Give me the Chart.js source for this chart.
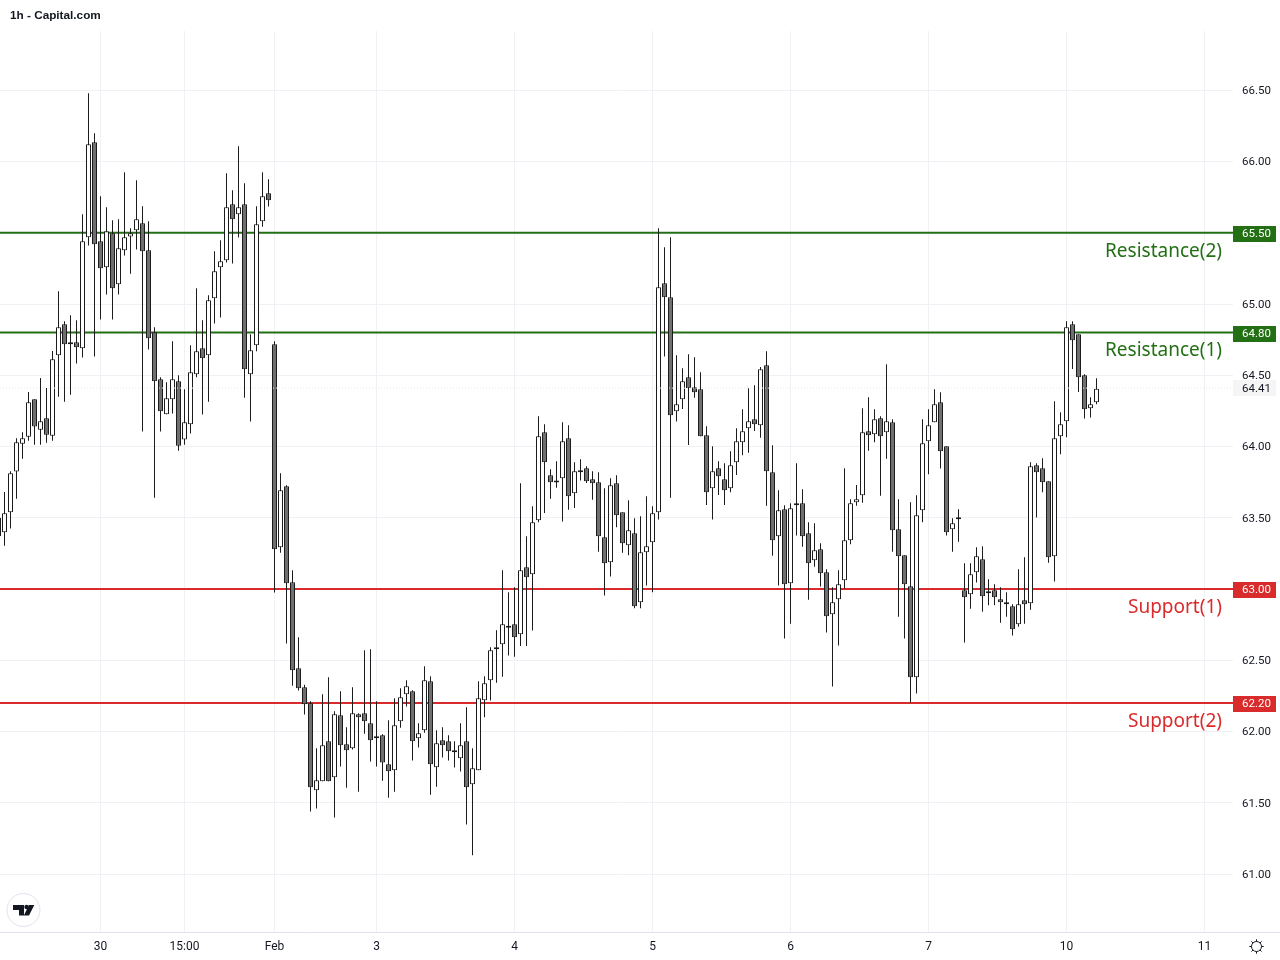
<!DOCTYPE html>
<html>
<head>
<meta charset="utf-8">
<title>1h - Capital.com</title>
<style>
html, body { margin: 0; padding: 0; background: #fff; }
canvas { display: block; }
</style>
<script src="https://cdn.jsdelivr.net/npm/chart.js@4/dist/chart.umd.min.js"></script>
</head>
<body>
<canvas id="chartCanvas" width="1280" height="960"></canvas>
<script>
// 1h candles, first one is cut by the left edge
const opens = [
  63.50,63.398,63.538,63.824,64.02,64.069,64.331,64.118,64.198,64.076,
  64.64,64.858,64.732,64.732,64.689,65.468,66.135,65.44,65.258,65.496,
  65.139,65.377,65.473,65.518,65.567,65.377,64.802,64.472,64.226,64.332,
  64.458,64.049,64.156,64.507,64.689,64.64,65.04,65.258,65.307,65.70,
  65.63,65.70,64.507,64.711,65.581,65.777,64.717,63.293,63.721,63.047,
  62.444,62.31,62.198,61.587,61.651,61.931,61.679,62.114,61.91,61.882,
  62.121,62.128,62.058,61.959,61.974,61.77,61.728,62.072,62.261,62.282,
  61.952,62.009,62.352,61.749,61.938,61.931,61.868,61.812,61.931,61.63,
  61.728,62.219,62.359,62.577,62.612,62.738,62.752,62.682,63.152,63.103,
  63.482,64.10,63.798,63.754,63.777,64.058,63.672,63.826,63.847,63.77,
  63.749,63.363,63.187,63.742,63.538,63.307,63.391,62.907,63.258,63.328,
  63.538,65.145,65.047,64.247,64.331,64.486,64.416,64.402,64.079,63.707,
  63.847,63.77,63.707,63.889,64.03,64.128,64.191,64.149,64.57,63.819,
  63.37,63.559,63.04,63.602,63.602,63.391,63.202,63.279,63.117,62.823,
  62.928,63.061,63.342,63.609,63.658,64.107,64.086,64.198,64.10,64.17,
  63.419,63.237,63.019,62.381,63.552,64.037,64.17,64.31,64.002,63.419,
  63.489,62.991,62.963,63.117,63.209,62.97,62.991,62.928,62.893,62.879,
  62.752,62.921,62.90,63.868,63.847,63.756,63.23,64.072,64.177,64.858,
  64.787,64.50,64.268,64.31
];
const highs = [
  63.55,63.681,63.826,64.058,64.10,64.383,64.331,64.481,64.411,64.671,
  65.089,64.879,64.921,64.886,65.63,66.479,66.198,65.756,65.679,65.588,
  65.595,65.925,65.532,65.868,65.686,65.581,64.837,64.486,64.451,64.739,
  64.50,64.402,64.711,65.111,64.886,65.061,65.37,65.447,65.918,65.798,
  66.107,65.847,64.788,65.686,65.925,65.875,64.739,63.812,63.728,63.131,
  62.661,62.329,62.212,61.882,62.261,62.381,62.142,62.282,62.03,62.31,
  62.128,62.57,62.577,62.212,61.981,62.079,62.233,62.303,62.359,62.289,
  62.058,62.458,62.388,62.009,62.03,61.974,61.931,62.058,62.17,61.882,
  62.352,62.388,62.591,62.71,63.131,62.977,63.012,63.742,63.37,63.58,
  64.212,64.156,63.84,63.896,64.17,64.149,63.889,63.91,63.861,63.826,
  63.819,63.707,63.777,63.798,63.538,63.623,63.496,63.51,63.651,63.58,
  65.531,65.398,65.468,64.64,64.549,64.647,64.626,64.521,64.142,64.002,
  63.896,63.882,63.967,64.128,64.261,64.409,64.43,64.558,64.668,64.009,
  63.693,63.587,63.602,63.882,63.70,63.468,63.461,63.321,63.138,63.012,
  63.131,63.847,63.63,63.73,64.268,64.345,64.261,64.212,64.577,64.191,
  63.63,63.237,63.609,63.658,64.191,64.261,64.402,64.38,64.002,63.496,
  63.559,63.18,63.18,63.293,63.30,63.068,63.033,63.012,62.977,62.893,
  63.138,63.223,63.889,63.882,63.917,63.756,64.317,64.24,64.879,64.879,
  64.787,64.507,64.345,64.479
];
const lows = [
  63.30,63.304,63.424,63.634,63.915,64.041,64.013,64.013,64.027,64.041,
  64.35,64.315,64.364,64.582,64.624,65.41,64.631,64.891,65.066,64.891,
  65.066,65.34,65.213,65.382,64.105,64.68,63.641,64.105,64.226,64.231,
  63.971,64.013,64.091,64.486,64.224,64.315,64.863,64.905,65.291,65.284,
  65.466,64.343,64.175,64.668,65.543,65.684,62.975,63.255,62.617,62.322,
  62.287,62.119,61.438,61.459,61.651,61.651,61.396,61.754,61.606,61.873,
  61.578,61.985,61.789,61.754,61.655,61.536,61.578,62.027,62.175,61.796,
  61.887,61.992,61.557,61.613,61.817,61.796,61.747,61.719,61.347,61.131,
  61.728,62.10,62.217,62.343,62.385,62.533,62.525,62.60,62.60,62.708,
  63.468,63.534,63.634,63.711,63.473,63.557,63.569,63.761,63.744,63.627,
  63.262,62.954,63.087,63.433,63.255,63.237,62.865,62.865,63.024,62.977,
  63.487,64.631,63.641,64.175,64.264,64.011,64.343,64.072,63.59,63.487,
  63.66,63.59,63.679,63.80,63.938,63.957,64.109,64.062,63.585,63.234,
  63.024,62.652,62.757,63.375,63.297,62.925,63.157,63.017,62.694,62.315,
  62.603,63.003,63.314,63.585,63.606,63.971,64.03,63.655,63.915,63.262,
  62.806,62.652,62.203,62.266,63.468,63.805,64.17,63.845,63.375,63.262,
  63.332,62.624,62.862,63.045,62.841,62.886,62.886,62.764,62.806,62.673,
  62.736,62.757,62.855,63.501,63.679,63.185,63.052,63.945,64.065,64.544,
  64.383,64.196,64.203,64.296
];
const closes = [
  63.37,63.531,63.812,64.03,64.058,64.31,64.14,64.177,64.083,64.612,
  64.837,64.718,64.718,64.696,65.44,66.121,65.419,65.251,65.511,65.111,
  65.391,65.468,65.496,65.595,65.37,64.76,64.458,64.247,64.339,64.472,
  64.006,64.17,64.521,64.668,64.619,65.026,65.23,65.30,65.679,65.595,
  65.679,64.542,64.675,65.56,65.756,65.728,63.279,63.693,63.04,62.43,
  62.303,62.191,61.609,61.658,61.903,61.651,62.121,61.903,61.868,62.128,
  62.10,62.072,61.938,61.952,61.782,61.721,62.044,62.24,62.317,61.931,
  61.987,62.359,61.77,61.917,61.903,61.861,61.854,61.903,61.609,61.742,
  62.233,62.338,62.57,62.591,62.752,62.729,62.661,63.131,63.082,63.468,
  64.072,63.889,63.749,63.747,64.037,63.651,63.826,63.819,63.756,63.742,
  63.37,63.18,63.728,63.517,63.321,63.412,62.879,63.258,63.30,63.531,
  65.117,65.047,64.219,64.296,64.458,64.409,64.38,64.072,63.679,63.826,
  63.791,63.693,63.868,64.037,64.107,64.177,64.156,64.542,63.826,63.342,
  63.552,63.033,63.566,63.587,63.37,63.18,63.272,63.11,62.809,62.907,
  63.033,63.342,63.602,63.63,64.10,64.079,64.191,64.072,64.177,63.412,
  63.23,63.033,62.381,63.517,64.023,64.149,64.296,63.967,63.398,63.461,
  63.489,62.942,63.103,63.23,62.949,62.97,62.942,62.907,62.893,62.717,
  62.893,62.893,63.861,63.819,63.749,63.223,64.058,64.156,64.837,64.745,
  64.486,64.261,64.296,64.406
];

const priceTicks = [66.5, 66, 65.5, 65, 64.5, 64, 63.5, 63, 62.5, 62, 61.5, 61];
const timeTickBars = [16, 30, 45, 62, 85, 108, 131, 154, 177, 200];
const timeTickLabels = ["30", "15:00", "Feb", "3", "4", "5", "6", "7", "10", "11"];

const levelValues = [65.5, 64.8, 63, 62.2];
const levelNames = ["Resistance(2)", "Resistance(1)", "Support(1)", "Support(2)"];
const levelColors = ["#226f14", "#226f14", "#d92b2b", "#d92b2b"];
const lastPrice = 64.41;

const upColor = "#ffffff";
const downColor = "#6f6f6f";
const wickColor = "#1c1c1c";
const barMin = -0.75, barMax = 204.75;
const font = "Roboto, Arial, sans-serif";

const barIndex = opens.map((v, i) => i - 1);

const levelSets = levelValues.map((v, i) => ({
    type: "line", order: 3,
    data: [{x: barMin, y: v}, {x: barMax, y: v}],
    borderColor: levelColors[i], borderWidth: 2, pointRadius: 0
}));

// Badges, text labels, logo and the small icon
const overlay = {
    id: "overlay",
    afterDraw(chart) {
        const ctx = chart.ctx, y = chart.scales.y;
        ctx.save();

        ctx.strokeStyle = "#e0e3eb";
        ctx.beginPath();
        ctx.moveTo(1234, 932.5); ctx.lineTo(1280, 932.5);
        ctx.stroke();

        ctx.fillStyle = "#131722";
        ctx.font = "bold 11.75px Arial, 'Liberation Sans', sans-serif";
        ctx.textBaseline = "middle";
        ctx.textAlign = "left";
        ctx.fillText("1h - Capital.com", 10, 15.5);

        const lastY = y.getPixelForValue(lastPrice);
        ctx.fillStyle = "#f5f5f5";
        ctx.fillRect(1233, lastY - 8, 43, 16);
        ctx.fillStyle = "#131722";
        ctx.font = "11.5px " + font;
        ctx.fillText(lastPrice.toFixed(2), 1242, lastY + 1.5);

        levelValues.forEach((v, i) => {
            const py = y.getPixelForValue(v);
            ctx.fillStyle = levelColors[i];
            ctx.fillRect(1233, Math.round(py) - 7, 43, 16);
            ctx.fillStyle = "#ffffff";
            ctx.font = "11.5px " + font;
            ctx.textAlign = "left";
            ctx.fillText(v.toFixed(2), 1242, py + 1.5);
            ctx.fillStyle = levelColors[i];
            ctx.font = "19px 'Noto Sans', sans-serif";
            ctx.textAlign = "right";
            ctx.fillText(levelNames[i], 1222, py + 18.5);
        });

        // logo
        ctx.fillStyle = "#ffffff";
        ctx.strokeStyle = "#e0e3eb";
        ctx.beginPath();
        ctx.arc(23.5, 910, 16.5, 0, Math.PI * 2);
        ctx.fill(); ctx.stroke();
        ctx.fillStyle = "#131722";
        ctx.beginPath();
        ctx.moveTo(13, 905); ctx.lineTo(24, 905); ctx.lineTo(24, 915.5); ctx.lineTo(19, 915.5);
        ctx.lineTo(19, 910); ctx.lineTo(13, 910); ctx.closePath();
        ctx.moveTo(29, 905); ctx.lineTo(34.3, 905); ctx.lineTo(29, 915.5); ctx.lineTo(23.8, 915.5); ctx.closePath();
        ctx.fill();
        ctx.beginPath();
        ctx.arc(26.6, 907, 2.3, 0, Math.PI * 2);
        ctx.fill();

        // settings icon
        ctx.strokeStyle = "#131722";
        ctx.lineWidth = 1;
        ctx.beginPath();
        ctx.arc(1256.5, 946.5, 5, 0, Math.PI * 2);
        ctx.stroke();
        for (let a = 0; a < 8; a++) {
            const t = a * Math.PI / 4;
            ctx.beginPath();
            ctx.moveTo(1256.5 + Math.cos(t) * 5, 946.5 + Math.sin(t) * 5);
            ctx.lineTo(1256.5 + Math.cos(t) * 7.2, 946.5 + Math.sin(t) * 7.2);
            ctx.stroke();
        }
        ctx.restore();
    }
};

new Chart(document.getElementById("chartCanvas"), {
    type: "bar",
    data: {
        datasets: [
            {
                order: 0, type: "line",
                data: [{x: barMin, y: lastPrice}, {x: barMax, y: lastPrice}],
                borderColor: "#e9e9e9", borderWidth: 1, borderDash: [1, 2], pointRadius: 0
            },
            {
                order: 1, grouped: false, barThickness: 5, minBarLength: 2, inflateAmount: 0,
                data: barIndex.map((x, i) => ({x: x, y: [opens[i], closes[i]]})),
                backgroundColor: opens.map((o, i) => closes[i] >= o ? upColor : downColor),
                borderColor: wickColor, borderWidth: 1, borderSkipped: false
            },
            {
                order: 2, grouped: false, barThickness: 1, inflateAmount: 0,
                data: barIndex.map((x, i) => ({x: x, y: [lows[i], highs[i]]})),
                backgroundColor: wickColor, borderWidth: 0
            },
            ...levelSets
        ]
    },
    options: {
        responsive: false,
        animation: false,
        devicePixelRatio: 1,
        layout: { padding: { top: 31, left: 0, right: 0, bottom: 0 } },
        plugins: { legend: { display: false }, tooltip: { enabled: false }, title: { display: false } },
        scales: {
            x: {
                type: "linear", offset: false, min: barMin, max: barMax,
                grid: { color: "#f0f1f4", offset: false, drawTicks: false },
                border: { color: "#e0e3eb" },
                afterBuildTicks: s => { s.ticks = timeTickBars.map(v => ({value: v})); },
                afterFit: s => { s.height = 28; },
                ticks: {
                    autoSkip: false, maxRotation: 0, padding: 8, color: "#131722", font: { family: font, size: 12 },
                    callback: v => timeTickLabels[timeTickBars.indexOf(v)]
                }
            },
            y: {
                position: "right", min: 60.593, max: 66.916,
                grid: { color: "#f0f1f4", drawTicks: false },
                border: { display: false },
                afterBuildTicks: s => { s.ticks = priceTicks.map(v => ({value: v})); },
                afterFit: s => { s.width = 47; },
                ticks: {
                    autoSkip: false, padding: 9, labelOffset: 1, color: "#131722", font: { family: font, size: 11.5 },
                    callback: v => v.toFixed(2)
                }
            }
        }
    },
    plugins: [overlay]
});
</script>
</body>
</html>
